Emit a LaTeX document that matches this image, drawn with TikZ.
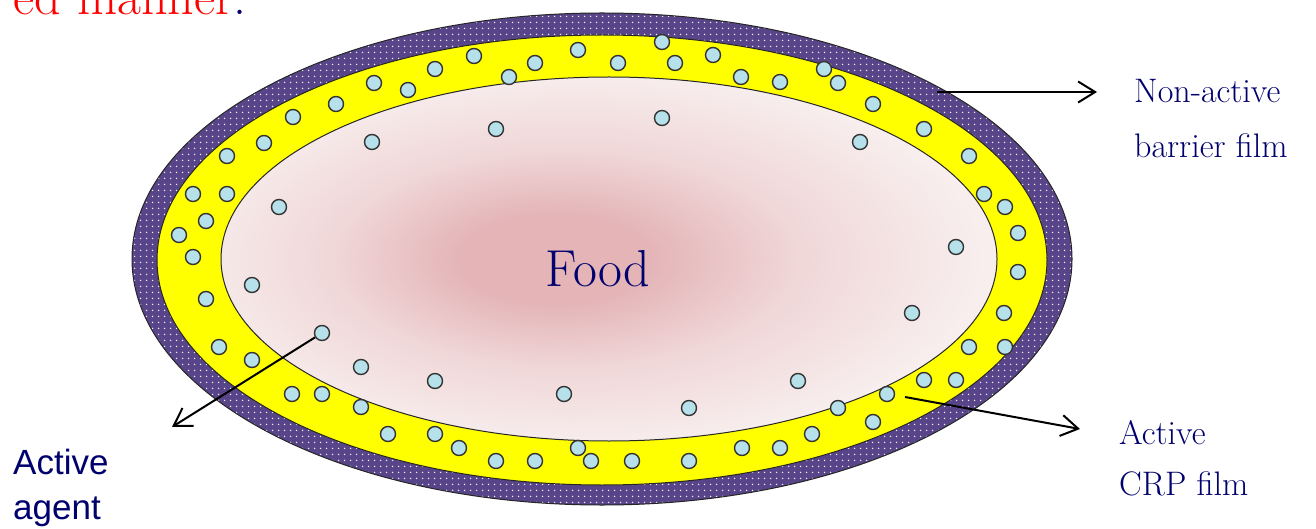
\documentclass[tikz,border=0pt]{standalone}
\usepackage{fontspec}
\newfontfamily\labelsans{Liberation Sans}
\usetikzlibrary{arrows.meta,patterns.meta}
\definecolor{navytext}{RGB}{0,0,110}
\definecolor{purpleband}{RGB}{88,68,136}
\definecolor{dotblue}{RGB}{182,225,234}
\definecolor{foodc}{RGB}{228,180,183}
\definecolor{foodm}{RGB}{240,215,216}
\definecolor{foodo}{RGB}{248,238,238}
\definecolor{bandyellow}{RGB}{255,255,0}
\tikzdeclarepattern{
  name=whitedots,
  type=uncolored,
  bounding box={(0pt,0pt) and (6pt,6pt)},
  tile size={(6pt,6pt)},
  code={\pgfpathcircle{\pgfpoint{3pt}{3pt}}{0.9pt}\pgfusepath{fill}}
}
\pgfdeclareradialshading{foodshade}{\pgfpoint{-4bp}{0bp}}{color(0bp)=(foodc); color(6bp)=(foodc); color(15bp)=(foodm); color(26bp)=(foodo); color(50bp)=(foodo)}
\begin{document}
\begin{tikzpicture}[x=1pt,y=-1pt,
  dot/.style={circle,minimum size=15pt,inner sep=0pt,fill=dotblue,draw=black!80,line width=1.4pt},
  rim/.style={draw=black!85,line width=1pt},
  lbl/.style={inner sep=0pt,text=navytext,anchor=base west},
  serifbig/.style={font=\fontsize{34}{40}\selectfont},
  sansbig/.style={font=\labelsans\fontsize{35}{40}\selectfont},
  pointer/.style={-{Straight Barb[length=17pt,width=21pt]},line width=2pt}]
\useasboundingbox (0,0) rectangle (1316,529);
\fill[white] (0,0) rectangle (1316,529);

% heading fragment cut by the top edge
\node[inner sep=0pt,anchor=base east,font=\fontsize{52}{60}\selectfont] (heading) at (247,15)
  {\textcolor{red}{ed manner}\textcolor{navytext}{.}};

% outer non-active barrier film
\path[fill=purpleband] (602,259) ellipse [x radius=470pt, y radius=246pt];
\path[pattern=whitedots,pattern color=white!90!purpleband] (602,259) ellipse [x radius=470pt, y radius=246pt];
\draw[rim] (602,259) ellipse [x radius=470pt, y radius=246pt];

% active CRP film
\filldraw[fill=bandyellow,rim] (602,260) ellipse [x radius=445pt, y radius=225pt];

% food
\shade[shading=foodshade] (609,259) ellipse [x radius=388pt, y radius=182pt];
\draw[rim] (609,259) ellipse [x radius=388pt, y radius=182pt];

% active agent particles
\foreach \p [count=\i] in {(662,42),(578,50),(474,56),(535,63),(618,63),(675,63),(713,55),(435,69),(509,77),(741,77),(780,82),(824,69),(838,83),(374,83),(408,90),(336,104),(293,117),(873,104),(264,143),(227,156),(924,129),(969,156),(193,194),(227,194),(206,221),(179,235),(193,257),(984,194),(1005,207),(1018,233),(1018,272),(206,299),(1004,313),(219,347),(252,360),(969,347),(1005,347),(292,394),(322,394),(361,407),(956,380),(924,380),(887,394),(838,408),(873,422),(388,434),(435,434),(459,448),(496,461),(535,461),(578,448),(591,461),(632,461),(689,461),(742,448),(780,448),(812,434),(372,142),(496,129),(662,118),(860,142),(279,207),(956,247),(252,285),(912,313),(361,367),(435,381),(564,394),(689,408),(798,381)}
  \node[dot] (d\i) at \p {};
\node[dot] (agentdot) at (322,333) {};

% texts
\node[inner sep=0pt,anchor=base,text=navytext,font=\fontsize{52}{60}\selectfont] (food) at (598,286) {Food};
\node[lbl,serifbig] (nonactive) at (1134,103) {Non-active};
\node[lbl,serifbig] (barrier) at (1134,158) {barrier film};
\node[lbl,serifbig] (active) at (1119,444) {Active};
\node[lbl,serifbig] (crp) at (1119,495) {CRP film};
\node[lbl,sansbig] (agentA) at (13,474) {Active};
\node[lbl,sansbig] (agentB) at (13,519) {agent};

% pointers
\coordinate (naStart) at (937,92);
\coordinate (naTip) at (1097,92);
\coordinate (crpStart) at (905,397);
\coordinate (crpTip) at (1080,429);
\coordinate (agTip) at (172,427);
\draw[pointer] (naStart) -- (naTip);
\draw[pointer] (crpStart) -- (crpTip);
\draw[pointer] (agentdot) -- (agTip);
\end{tikzpicture}
\end{document}
